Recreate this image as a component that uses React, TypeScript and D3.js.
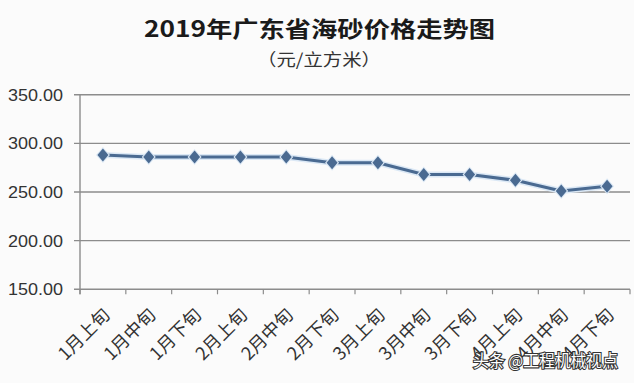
import React from "react";
import * as d3 from "d3";

const categories = ["1月上旬", "1月中旬", "1月下旬", "2月上旬", "2月中旬", "2月下旬", "3月上旬", "3月中旬", "3月下旬", "4月上旬", "4月中旬", "4月下旬"];
const prices = [288, 286, 286, 286, 286, 280, 280, 268, 268, 262, 251, 256];
const yTicks = [150, 200, 250, 300, 350];
const title = "2019年广东省海砂价格走势图";
const subtitle = "（元/立方米）";
const watermark = "头条 @工程机械视点";

const W = 634, H = 383;
const left = 80, right = 630, top = 94.7, bottom = 289.3;

export default function App() {
  const x = d3.scaleBand<string>().domain(categories).range([left, right]);
  const y = d3.scaleLinear().domain([150, 350]).range([bottom, top]);
  const cx = (c: string) => (x(c) as number) + x.bandwidth() / 2;
  const line = d3.line<number>().x((_, i) => cx(categories[i])).y((d) => y(d));
  const path = line(prices) || "";
  const tickXs = [...categories.map((c) => x(c) as number), right];
  const diamond = (w: number, h: number) => `M0,${-h}L${w},0L0,${h}L${-w},0Z`;
  const cjk = "'Noto Sans CJK SC', 'Noto Sans', sans-serif";
  return (
    <div style={{ position: "fixed", left: 0, top: 0 }}>
      <svg width={W} height={H} style={{ display: "block", background: "#fbfbfb" }}>
        <text x={319.5} y={37} textAnchor="middle" fontFamily={cjk} fontWeight={700} fontSize={22} fill="#1a1a1a" textLength={351} lengthAdjust="spacingAndGlyphs">{title}</text>
        <text x={319} y={66} textAnchor="middle" fontFamily={cjk} fontSize={17} fill="#333" textLength={124} lengthAdjust="spacingAndGlyphs">{subtitle}</text>
        {yTicks.map((t) => (
          <g key={t}>
            <line x1={left - 6} x2={right} y1={y(t)} y2={y(t)} stroke="#8c8c8c" strokeWidth={1.4} />
            <text x={63} y={y(t) + 6} textAnchor="end" fontFamily="'Liberation Sans', Arial, sans-serif" fontSize={17} fill="#333" textLength={55} lengthAdjust="spacingAndGlyphs">{t.toFixed(2)}</text>
          </g>
        ))}
        <line x1={left} x2={left} y1={top} y2={bottom + 5} stroke="#8c8c8c" strokeWidth={1.4} />
        {tickXs.map((tx, i) => (
          <line key={i} x1={tx} x2={tx} y1={bottom} y2={bottom + 5} stroke="#8c8c8c" strokeWidth={1.2} />
        ))}
        <path d={path} fill="none" stroke="#dbe8f5" strokeWidth={6} strokeLinejoin="round" />
        <path d={path} fill="none" stroke="#4a6a91" strokeWidth={3} strokeLinejoin="round" />
        {prices.map((v, i) => (
          <g key={i} transform={`translate(${cx(categories[i])},${y(v)})`}>
            <path d={diamond(7, 8)} fill="#dbe8f5" />
            <path d={diamond(5.5, 6.5)} fill="#4a6a91" />
          </g>
        ))}
        {categories.map((c) => (
          <text key={c} transform={`translate(${cx(c) + 8},${316}) rotate(-45)`} textAnchor="end" fontFamily={cjk} fontSize={18} fill="#333">{c}</text>
        ))}
        <text x={473} y={367} fontFamily={cjk} fontSize={17} fill="#fff" stroke="#333" strokeWidth={2.2} paintOrder="stroke" textLength={145} lengthAdjust="spacingAndGlyphs">{watermark}</text>
      </svg>
    </div>
  );
}
